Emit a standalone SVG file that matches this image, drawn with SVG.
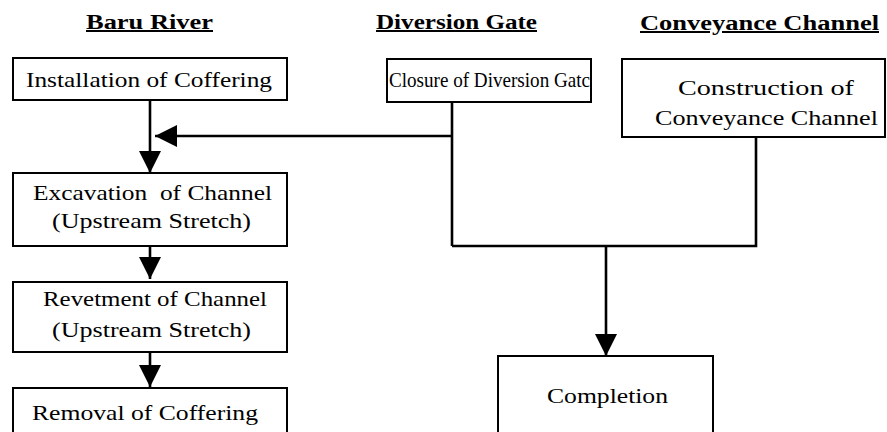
<svg xmlns="http://www.w3.org/2000/svg" width="887" height="432" viewBox="0 0 887 432">
  <style>
    .bg { fill: #ffffff; }
    .box { fill: #ffffff; stroke: #000000; stroke-width: 2; }
    .hdr { font-family: 'Liberation Serif', 'DejaVu Serif', serif; font-size: 20px; font-weight: bold; fill: #000000; text-decoration: underline; }
    .lbl { font-family: 'Liberation Serif', 'DejaVu Serif', serif; font-size: 22px; fill: #000000; }
    .wire { fill: none; stroke: #000000; stroke-width: 2.6; }
  </style>
  <defs>
    <marker id="head" markerUnits="userSpaceOnUse" markerWidth="22" markerHeight="22" viewBox="0 0 20 20" refX="20" refY="10" orient="auto">
      <path d="M0,0 L20,10 L0,20 Z" fill="#000000"/>
    </marker>
  </defs>

  <rect class="bg" x="0" y="0" width="887" height="432"/>

  <!-- column headings -->
  <g id="headings">
    <text class="hdr" x="86" y="29" textLength="127" lengthAdjust="spacingAndGlyphs">Baru River</text>
    <text class="hdr" x="376" y="29" textLength="161" lengthAdjust="spacingAndGlyphs">Diversion Gate</text>
    <text class="hdr" x="640" y="30" textLength="239" lengthAdjust="spacingAndGlyphs">Conveyance Channel</text>
  </g>

  <!-- connectors -->
  <g id="connectors">
    <line class="wire" x1="150" y1="100" x2="150" y2="173" marker-end="url(#head)"/>
    <polyline class="wire" points="452,102 452,246"/>
    <line class="wire" x1="452" y1="136" x2="155" y2="136" marker-end="url(#head)"/>
    <polyline class="wire" points="756,137 756,246 452,246"/>
    <line class="wire" x1="606" y1="246" x2="606" y2="356" marker-end="url(#head)"/>
    <line class="wire" x1="150" y1="246" x2="150" y2="279" marker-end="url(#head)"/>
    <line class="wire" x1="150" y1="352" x2="150" y2="387" marker-end="url(#head)"/>
  </g>

  <g id="installation">
    <rect class="box" x="13" y="58" width="274" height="42"/>
    <text class="lbl" x="26" y="87" textLength="246" lengthAdjust="spacingAndGlyphs">Installation of Coffering</text>
  </g>

  <g id="closure">
    <rect class="box" x="387" y="59" width="204" height="43"/>
    <text class="lbl" x="389" y="87" textLength="201" lengthAdjust="spacingAndGlyphs">Closure of Diversion Gatc</text>
  </g>

  <g id="construction">
    <rect class="box" x="622" y="59" width="263" height="78"/>
    <text class="lbl" x="678" y="95" textLength="176" lengthAdjust="spacingAndGlyphs">Construction of</text>
    <text class="lbl" x="655" y="125" textLength="223" lengthAdjust="spacingAndGlyphs">Conveyance Channel</text>
  </g>

  <g id="excavation">
    <rect class="box" x="13" y="173" width="274" height="73"/>
    <text class="lbl" x="33" y="200" textLength="239" lengthAdjust="spacingAndGlyphs" xml:space="preserve">Excavation  of Channel</text>
    <text class="lbl" x="52" y="228" textLength="199" lengthAdjust="spacingAndGlyphs">(Upstream Stretch)</text>
  </g>

  <g id="revetment">
    <rect class="box" x="13" y="282" width="274" height="70"/>
    <text class="lbl" x="43" y="306" textLength="224" lengthAdjust="spacingAndGlyphs">Revetment of Channel</text>
    <text class="lbl" x="52" y="337" textLength="199" lengthAdjust="spacingAndGlyphs">(Upstream Stretch)</text>
  </g>

  <g id="removal">
    <rect class="box" x="13" y="388" width="274" height="56"/>
    <text class="lbl" x="32" y="420" textLength="226" lengthAdjust="spacingAndGlyphs">Removal of Coffering</text>
  </g>

  <g id="completion">
    <rect class="box" x="498" y="356" width="215" height="88"/>
    <text class="lbl" x="547" y="403" textLength="121" lengthAdjust="spacingAndGlyphs">Completion</text>
  </g>
</svg>
